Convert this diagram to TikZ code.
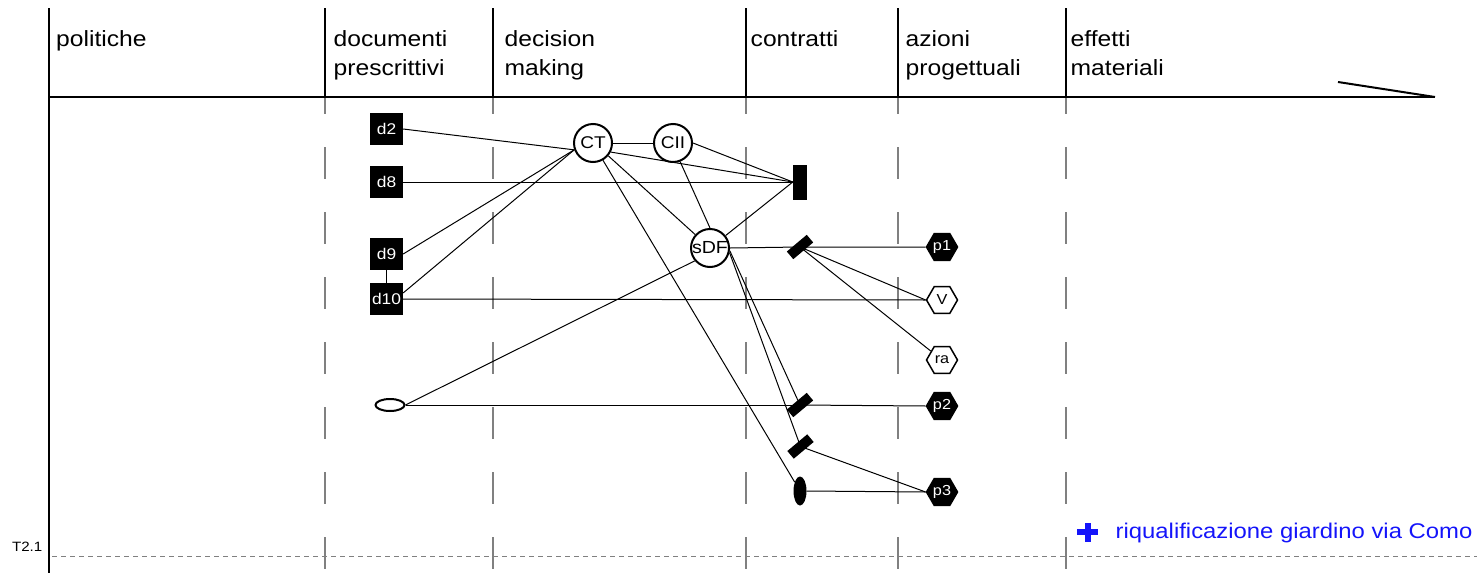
\documentclass[tikz,border=0pt]{standalone}
\usepackage{fontspec}
\setmainfont{Liberation Sans}[FakeStretch=1.12]
\usetikzlibrary{shapes.geometric}
\definecolor{dashgray}{RGB}{128,128,128}
\definecolor{labelblue}{RGB}{20,20,250}
\tikzset{
  hdr/.style={anchor=base west, inner sep=0pt, font=\fontsize{22}{26}\selectfont},
  doc/.style={rectangle, fill=black, minimum width=33pt, minimum height=32pt, inner sep=0pt, text=white, font=\fontsize{15.5}{17}\selectfont},
  actor/.style={circle, draw=black, line width=2pt, fill=white, minimum size=38pt, inner sep=0pt, font=\fontsize{17}{19}\selectfont},
  hexfull/.style={regular polygon, regular polygon sides=6, minimum size=31pt, inner sep=0pt, draw=black, line width=1.5pt, fill=black, text=white, font=\fontsize{14.5}{16}\selectfont},
  hexopen/.style={regular polygon, regular polygon sides=6, minimum size=31pt, inner sep=0pt, draw=black, line width=1.5pt, fill=white, text=black, font=\fontsize{14.5}{16}\selectfont},
  barnode/.style={rectangle, fill=black, minimum width=26pt, minimum height=10pt, inner sep=0pt, rotate=40},
  link/.style={draw=black, line width=1pt},
  colsep/.style={dashgray, line width=1.3pt, dash pattern=on 32pt off 33pt, dash phase=15pt},
}
\begin{document}
\begin{tikzpicture}[x=1pt,y=-1pt]
\useasboundingbox (0,0) rectangle (1477,573);
% column separators
\foreach \cx in {325,493,746,898,1066} {
  \draw[colsep] (\cx,97) -- (\cx,573);
  \draw[black, line width=1.2pt] (\cx,8) -- (\cx,97);
}
\draw[black, line width=2.2pt] (49,8) -- (49,573);
\draw[black, line width=2.5pt] (49,97) -- (1435,97);
\draw[black, line width=2pt] (1338,82) -- (1435,97);
\draw[dashgray, line width=0.9pt, dash pattern=on 5pt off 4pt] (52,556) -- (1477,556);

% headers
\node[hdr] (h1) at (56,46.5) {politiche};
\node[hdr] (h2a) at (333.5,46.5) {documenti};
\node[hdr] (h2b) at (333.5,75.5) {prescrittivi};
\node[hdr] (h3a) at (504.5,46.5) {decision};
\node[hdr] (h3b) at (504.5,75.5) {making};
\node[hdr] (h4) at (750.5,46.5) {contratti};
\node[hdr] (h5a) at (905.5,46.5) {azioni};
\node[hdr] (h5b) at (905.5,75.5) {progettuali};
\node[hdr] (h6a) at (1070.5,46.5) {effetti};
\node[hdr] (h6b) at (1070.5,75.5) {materiali};

% row label
\node[anchor=base east, inner sep=0pt, font=\fontsize{13.5}{15}\selectfont] (t21) at (42.5,551.5) {T2.1};

% blue legend
\fill[labelblue] (1076.7,529) rectangle (1098.3,535);
\fill[labelblue] (1084.5,522.7) rectangle (1090.5,541.7);
\node[anchor=base west, inner sep=0pt, text=labelblue, font=\fontsize{21.3}{24}\selectfont] (lbl) at (1115.5,538.3) {riqualificazione giardino via Como};

% nodes
\node[doc] (d2) at (386.5,129) {d2};
\node[doc] (d8) at (386.5,182) {d8};
\node[doc] (d9) at (386.5,254) {d9};
\node[doc] (d10) at (386.5,299) {d10};
\node[actor] (CT) at (593,143) {CT};
\node[actor] (CII) at (673,143) {CII};
\node[actor, font=\fontsize{17.5}{19}\selectfont] (sDF) at (710,248) {sDF};
\node[rectangle, fill=black, minimum width=14pt, minimum height=35pt, inner sep=0pt] (rect) at (800,182) {};
\node[barnode] (bar1) at (800,247) {};
\node[barnode] (bar2) at (800,405) {};
\node[barnode] (bar3) at (800.5,446.5) {};
\node[ellipse, fill=black, minimum width=13pt, minimum height=29pt, inner sep=0pt] (blob) at (800,491) {};
\node[ellipse, draw=black, line width=2pt, fill=white, minimum width=29pt, minimum height=12pt, inner sep=0pt] (oval) at (390,405) {};
\node[hexfull] (p1) at (942,247) {p1};
\node[hexopen] (V) at (942,300) {V};
\node[hexopen] (ra) at (942,360) {ra};
\node[hexfull] (p2) at (942,406) {p2};
\node[hexfull] (p3) at (942,492) {p3};

% connectors
\draw[link] (d2.east) -- (CT.200);
\draw[link] (d9.east) -- (CT.200);
\draw[link] (d10.20) -- (CT.200);
\draw[link] (d9.south) -- (d10.north);
\draw[link] (d8.east) -- (rect.west);
\draw[link] (d10.east) -- (V.west);
\draw[link] (CT.east) -- (CII.west);
\draw[link] (CT.-27) -- (rect.west);
\draw[link] (CII.east) -- (rect.west);
\draw[link] (CT.-40) -- (sDF);
\draw[link] (CT.-60) -- (blob);
\draw[link] (CII.-69) -- (sDF.north);
\draw[link] (sDF) -- (rect.west);
\draw[link] (sDF.east) -- (bar1.center);
\draw[link] (bar1.center) -- (p1.west);
\draw[link] (bar1.center) -- (V.west);
\draw[link] (bar1.center) -- (ra);
\draw[link] (sDF.-8) -- (bar2.center);
\draw[link] (sDF.-13) -- (bar3.center);
\draw[link] (oval.east) -- (bar2.center);
\draw[link] (bar2.center) -- (p2.west);
\draw[link] (oval.east) -- (sDF.220);
\draw[link] (bar3.center) -- (p3.west);
\draw[link] (blob.east) -- (p3.west);
\end{tikzpicture}
\end{document}
